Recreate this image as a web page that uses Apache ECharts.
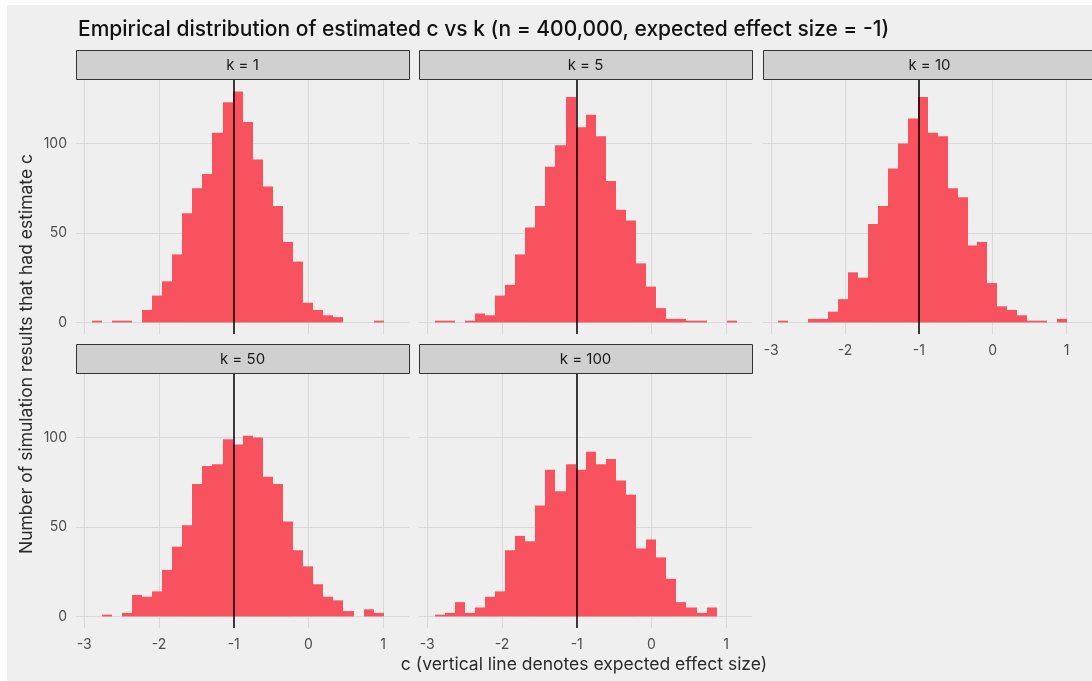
<!DOCTYPE html>
<html><head><meta charset="utf-8">
<script src="https://cdn.jsdelivr.net/npm/echarts@6/dist/echarts.min.js"></script>
<style>html,body{margin:0;padding:0;background:#fff}#c{width:1092px;height:681px}</style>
</head><body><div id="c"></div>
<script>
// ---- data ----
const TITLE = "Empirical distribution of estimated c vs k (n = 400,000, expected effect size = -1)";
const X_TITLE = "c (vertical line denotes expected effect size)";
const Y_TITLE = "Number of simulation results that had estimate c";
const panelLabels = ["k = 1", "k = 5", "k = 10", "k = 50", "k = 100"];
const binStart = -2.902;
const binWidth = 0.1348;
const expectedEffect = -1;
const countsK1   = [1,0,1,1,0,7,15,23,38,61,75,83,106,123,129,112,91,76,65,45,34,11,7,4,3,0,0,0,1,0];
const countsK5   = [1,1,0,1,5,4,15,21,38,53,65,87,99,126,109,116,104,79,63,57,33,20,8,2,2,1,1,0,0,1];
const countsK10  = [1,0,0,2,2,6,13,28,25,55,65,86,100,114,126,106,104,75,70,43,45,22,9,7,4,1,1,0,2,0];
const countsK50  = [0,1,0,2,12,11,14,26,39,51,74,84,85,99,96,101,100,78,74,53,37,28,18,11,9,3,0,4,2,0];
const countsK100 = [1,2,8,2,5,11,14,37,45,42,62,82,70,85,82,92,85,88,76,68,38,43,33,21,8,5,2,5,0,0];
const xTicks = [-3, -2, -1, 0, 1];
const yTicks = [0, 50, 100];
const xLimits = [-3.11, 1.345];
const yLimits = [-6.45, 135.45];

const panelCounts = [countsK1, countsK5, countsK10, countsK50, countsK100];

// ---- layout / style ----
const FONT = 'Inter';
const BAR = '#F8525F';
const layout = [
  {left: 76,  top: 80,  showX: false, showY: true},
  {left: 419, top: 80,  showX: false, showY: false},
  {left: 763, top: 80,  showX: true,  showY: false},
  {left: 76,  top: 374, showX: true,  showY: true},
  {left: 419, top: 374, showX: true,  showY: false}
];
const PW = 333, PH = 254, STRIP = 30;

const grids = [], xAxes = [], yAxes = [], series = [], graphics = [];
graphics.push({type: 'rect', shape: {x: 0, y: 0, width: 1092, height: 5}, style: {fill: '#fff'}, z: 100});
graphics.push({type: 'rect', shape: {x: 0, y: 0, width: 7, height: 681}, style: {fill: '#fff'}, z: 100});

panelCounts.forEach((counts, i) => {
  const L = layout[i];
  grids.push({left: L.left, top: L.top, width: PW, height: PH, containLabel: false});
  xAxes.push({
    type: 'value', gridIndex: i, min: xLimits[0], max: xLimits[1], splitNumber: 4,
    axisLine: {show: false}, axisTick: {show: false},
    axisLabel: {show: L.showX, margin: 10, color: '#4d4d4d', fontSize: 14, fontFamily: FONT,
      showMinLabel: false, showMaxLabel: false,
      formatter: v => xTicks.includes(v) ? String(v) : ''},
    splitLine: {show: true, showMinLine: false, showMaxLine: false, lineStyle: {color: '#d9d9d9', width: 1}}
  });
  yAxes.push({
    type: 'value', gridIndex: i, min: yLimits[0], max: yLimits[1], splitNumber: 3,
    axisLine: {show: false}, axisTick: {show: false},
    axisLabel: {show: L.showY, margin: 9, color: '#4d4d4d', fontSize: 14, fontFamily: FONT,
      showMinLabel: false, showMaxLabel: false,
      formatter: v => yTicks.includes(v) ? String(v) : ''},
    splitLine: {show: true, showMinLine: false, showMaxLine: false, lineStyle: {color: '#d9d9d9', width: 1}}
  });
  const data = counts.map((c, j) => [binStart + j * binWidth, binStart + (j + 1) * binWidth, c]);
  series.push({
    type: 'custom', xAxisIndex: i, yAxisIndex: i, data: data,
    encode: {x: [0, 1], y: 2},
    renderItem: (params, api) => {
      const c = api.value(2);
      if (!c) return null;
      const p0 = api.coord([api.value(0), 0]);
      const p1 = api.coord([api.value(1), c]);
      const x0 = Math.round(p0[0]), x1 = Math.round(p1[0]);
      return {type: 'rect', shape: {x: x0, y: p1[1], width: x1 - x0, height: p0[1] - p1[1]},
        style: {fill: BAR}};
    },
    markLine: {
      silent: true, symbol: ['none', 'none'], label: {show: false},
      lineStyle: {color: '#000', width: 1.5, type: 'solid'},
      data: [{xAxis: expectedEffect}], animation: false
    },
    animation: false
  });
  // strip
  graphics.push({type: 'rect', shape: {x: L.left + 0.5, y: L.top - STRIP + 0.5, width: PW, height: STRIP - 1},
    style: {fill: '#d0d0d0', stroke: '#333', lineWidth: 1}});
  graphics.push({type: 'text', x: L.left + PW / 2, y: L.top - STRIP / 2,
    style: {text: panelLabels[i], align: 'center', verticalAlign: 'middle', fontSize: 15, fontFamily: FONT, fill: '#1a1a1a'}});
});

graphics.push({type: 'text', x: 27, y: 354, rotation: Math.PI / 2,
  style: {text: Y_TITLE, align: 'center', verticalAlign: 'middle', fontSize: 17.5, fontFamily: FONT, fill: '#2b2b2b'}});
graphics.push({type: 'text', x: 584, y: 665,
  style: {text: X_TITLE, align: 'center', verticalAlign: 'middle', fontSize: 17.5, fontFamily: FONT, fill: '#2b2b2b'}});

const chart = echarts.init(document.getElementById('c'), null, {renderer: 'canvas'});
chart.setOption({
  backgroundColor: '#efefef',
  animation: false,
  title: {text: TITLE, left: 73, top: 14, textStyle: {fontSize: 21, fontWeight: 500, color: '#111', fontFamily: FONT}},
  grid: grids, xAxis: xAxes, yAxis: yAxes, series: series,
  graphic: graphics
});
</script></body></html>
